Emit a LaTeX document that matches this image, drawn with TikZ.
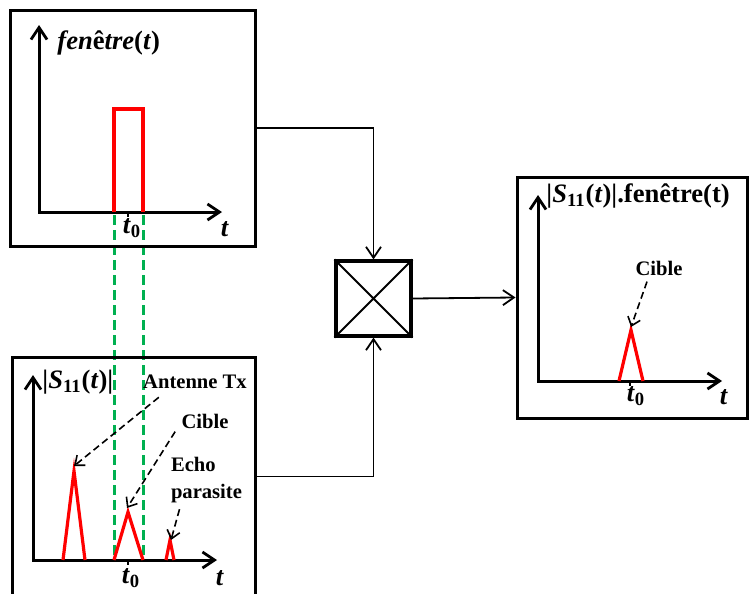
\documentclass[tikz,border=0pt]{standalone}
\usepackage{fontspec}
\setmainfont{Liberation Serif}
\usepackage{xcolor}
\usetikzlibrary{arrows.meta,positioning}
\definecolor{guidegreen}{RGB}{0,176,80}
\tikzset{
  panel/.style={draw, line width=1.5pt, inner sep=0pt},
  mixer/.style={draw, line width=1.6pt, minimum size=37.5pt, inner sep=0pt},
  axis/.style={line width=1.5pt, line join=miter,
    {Straight Barb[length=6pt,width=8pt,line width=1.4pt]}-{Straight Barb[length=6pt,width=8pt,line width=1.4pt]}},
  pulse/.style={red, line width=1.6pt},
  guide/.style={guidegreen, line width=1.5pt, dash pattern=on 5pt off 2.5pt},
  note/.style={line width=0.8pt, dash pattern=on 3.5pt off 2pt, -{Straight Barb[length=4pt,width=6.5pt]}},
  wire/.style={line width=0.9pt, -{Straight Barb[length=5.5pt,width=7.5pt]}},
  lbl/.style={font=\fontsize{10.3}{13.5}\selectfont\bfseries, inner sep=0pt, align=left},
  sym/.style={font=\fontsize{13.3}{15}\selectfont\bfseries, inner sep=0pt},
}

\begin{document}
\begin{tikzpicture}[x=0.5pt, y=-0.5pt]
\useasboundingbox (0,0) rectangle (750,594);
% green guide lines
\draw[guide] (114,215) -- (114,560);
\draw[guide] (143,215) -- (143,560);
% panels
\node[panel, minimum width=122.5pt, minimum height=118pt] (winPanel) at (132.5,128) {};
\node[panel, minimum width=121.5pt, minimum height=119.5pt] (sigPanel) at (133.5,476.5) {};
\node[panel, minimum width=115pt, minimum height=120.5pt] (resPanel) at (632,297.5) {};
\node[mixer] (mix) at (373.5,298.5) {};
\draw[line width=1pt] (mix.north west) -- (mix.south east) (mix.north east) -- (mix.south west);
% window
\draw[axis] (39,25) -- (39,212) -- (222,212);
\draw[pulse] (114,212) -- (114,109) -- (143,109) -- (143,212);
\draw[line width=0.8pt] (128,212) -- (128,217);
\node[sym, anchor=west] (winLbl) at (57,43) {\textit{fen}ê\textit{tre}(\textit{t})};
\node[sym] (winT0) at (132,228) {\textit{t}\textsubscript{0}};
\node[sym] (winT) at (225,229) {\textit{t}};
% S11
\draw[axis] (33,375) -- (33,560) -- (217,560);
\draw[pulse] (63,560) -- (74,471) -- (85,560);
\draw[pulse] (114,560) -- (128,512) -- (143,560);
\draw[pulse] (166,560) -- (170,540) -- (174,560);
\draw[line width=0.8pt] (128,560) -- (128,565);
\coordinate (pkA) at (74,466);
\coordinate (pkB) at (127,508);
\coordinate (pkC) at (171,540);
\node[sym, anchor=west] (sigLbl) at (42,382) {|\textit{S}\textsubscript{11}(\textit{t})|};
\node[sym] (sigT0) at (131,578) {\textit{t}\textsubscript{0}};
\node[sym] (sigT) at (220,578) {\textit{t}};
\node[lbl] (antLbl) at (195,382) {Antenne Tx};
\node[lbl] (cibLbl) at (205,421) {Cible};
\node[lbl] (echoLbl) at (206.5,480) {Echo\\parasite};
\draw[note] ([shift={(16,8)}]antLbl.south west) -- (pkA);
\draw[note] ([shift={(-6,3)}]cibLbl.south west) -- (pkB);
\draw[note] ([shift={(-27,6)}]echoLbl.south) -- (pkC);
% result
\draw[axis] (538,195) -- (538,381) -- (722,381);
\draw[pulse] (619,381) -- (631,330) -- (643,381);
\draw[line width=0.8pt] (630,381) -- (630,386);
\coordinate (pkD) at (631,327);
\node[sym, anchor=west] (resLbl) at (546,196) {|\textit{S}\textsubscript{11}(\textit{t})|.fenêtre(t)};
\node[sym] (resT0) at (636,396) {\textit{t}\textsubscript{0}};
\node[sym] (resT) at (724,397) {\textit{t}};
\node[lbl] (cib2Lbl) at (659,268) {Cible};
\draw[note] ([shift={(-12,6)}]cib2Lbl.south) -- (pkD);
% connectors
\draw[wire] (winPanel.east) -| (mix.north);
\draw[wire] (sigPanel.east) -| (mix.south);
\draw[wire] (mix.east) -- (resPanel.west);
\end{tikzpicture}
\end{document}
